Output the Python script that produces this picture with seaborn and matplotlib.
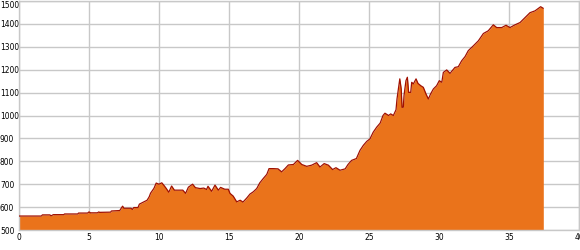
import matplotlib
matplotlib.use("Agg")
import matplotlib.pyplot as plt
import seaborn as sns
import pandas as pd

distance_km = [0, 1.6, 1.67, 2.2, 2.3, 2.45, 3.2, 3.25, 4.2, 4.25, 4.9, 5.0, 5.1, 5.6, 5.7, 5.75,
               6.55, 6.6, 7.2, 7.3, 7.4, 7.5, 8.0, 8.1, 8.2, 8.5, 8.6, 8.9, 9.15, 9.3, 9.4, 9.64,
               9.8, 10.0, 10.2, 10.35, 10.5, 10.7, 10.9, 11.1, 11.7, 11.9, 12.1, 12.4, 12.6, 12.93,
               13.2, 13.4, 13.5, 13.76, 14.0, 14.24, 14.4, 14.7, 14.95, 15.07, 15.3, 15.55, 15.8,
               16.0, 16.26, 16.5, 16.74, 16.98, 17.2, 17.45, 17.7, 17.86, 18.17, 18.5, 18.76, 19.0,
               19.24, 19.6, 19.9, 20.2, 20.55, 20.9, 21.26, 21.5, 21.8, 22.1, 22.4, 22.64, 22.93,
               23.3, 23.5, 23.76, 24.1, 24.36, 24.6, 24.84, 25.07, 25.3, 25.55, 25.8, 26.0, 26.14,
               26.4, 26.55, 26.74, 26.93, 27.0, 27.1, 27.2, 27.3, 27.36, 27.45, 27.5, 27.64, 27.74,
               27.83, 27.98, 28.05, 28.17, 28.36, 28.5, 28.7, 28.88, 29.07, 29.24, 29.4, 29.6,
               29.83, 30.02, 30.2, 30.31, 30.55, 30.79, 31.14, 31.38, 31.62, 31.86, 32.09, 32.45,
               32.81, 33.17, 33.52, 33.88, 34.12, 34.48, 34.79, 35.07, 35.43, 35.79, 36.14, 36.5,
               36.86, 37.1, 37.26, 37.45]
elevation_m = [561, 561, 566, 566, 562, 567, 567, 570, 570, 574, 574, 579, 575, 575, 579, 577,
               578, 583, 585, 595, 604, 595, 595, 590, 598, 598, 613, 622, 630, 645, 661, 682,
               705, 700, 706, 695, 683, 665, 692, 674, 674, 660, 687, 700, 685, 681,
               683, 677, 691, 669, 696, 674, 686, 678, 678, 660, 648, 623, 630,
               622, 639, 657, 667, 681, 706, 725, 743, 768, 768, 767, 754, 768,
               784, 786, 804, 786, 778, 783, 794, 775, 790, 783, 764, 772, 761,
               767, 786, 804, 812, 848, 870, 887, 898, 927, 949, 967, 1000, 1010,
               1000, 1007, 1000, 1025, 1072, 1116, 1160, 1116, 1036, 1036, 1087, 1152, 1167,
               1101, 1101, 1145, 1138, 1160, 1140, 1130, 1123, 1094, 1072, 1094, 1116,
               1130, 1152, 1145, 1188, 1199, 1184, 1210, 1213, 1239, 1257, 1283, 1304,
               1326, 1358, 1370, 1396, 1384, 1384, 1394, 1384, 1396, 1406, 1427, 1449,
               1457, 1468, 1475, 1468]
x_ticks = [0, 5, 10, 15, 20, 25, 30, 35, 40]
y_ticks = [500, 600, 700, 800, 900, 1000, 1100, 1200, 1300, 1400, 1500]

sns.set_style("white")
plt.rcParams['font.family'] = ['DejaVu Sans']
plt.rcParams['font.stretch'] = 'condensed'

df = pd.DataFrame({"km": distance_km, "elev": elevation_m})

fig = plt.figure(figsize=(5.8, 2.5), dpi=100)
ax = fig.add_axes([19 / 580, 20 / 250, 560 / 580, 229 / 250])

ax.fill_between(df["km"], 500, df["elev"], color="#EA731B", linewidth=0, zorder=2)
sns.lineplot(data=df, x="km", y="elev", ax=ax, color="#A01000", linewidth=0.9, zorder=3)

ax.set_xlim(0, 40)
ax.set_ylim(500, 1500)
ax.set_xticks(x_ticks)
ax.set_yticks(y_ticks)
ax.set_xticklabels([str(t) for t in x_ticks])
ax.set_yticklabels([str(t) for t in y_ticks])
ax.grid(True, color="#C8C8C8", linewidth=1, zorder=0)
ax.set_axisbelow(True)
for s in ax.spines.values():
    s.set_color("#C8C8C8")
    s.set_linewidth(1)
ax.tick_params(axis="x", length=0, labelsize=6, colors="black", pad=2.5)
ax.tick_params(axis="y", length=0, labelsize=6, colors="black", pad=13.7)
for lab in ax.get_yticklabels():
    lab.set_horizontalalignment("left")
    lab.set_fontstretch("condensed")
for lab in ax.get_xticklabels():
    lab.set_fontstretch("condensed")
ax.get_yticklabels()[-1].set_verticalalignment("top")
ax.set_xlabel("")
ax.set_ylabel("")

fig.savefig("out.png", dpi=100)
